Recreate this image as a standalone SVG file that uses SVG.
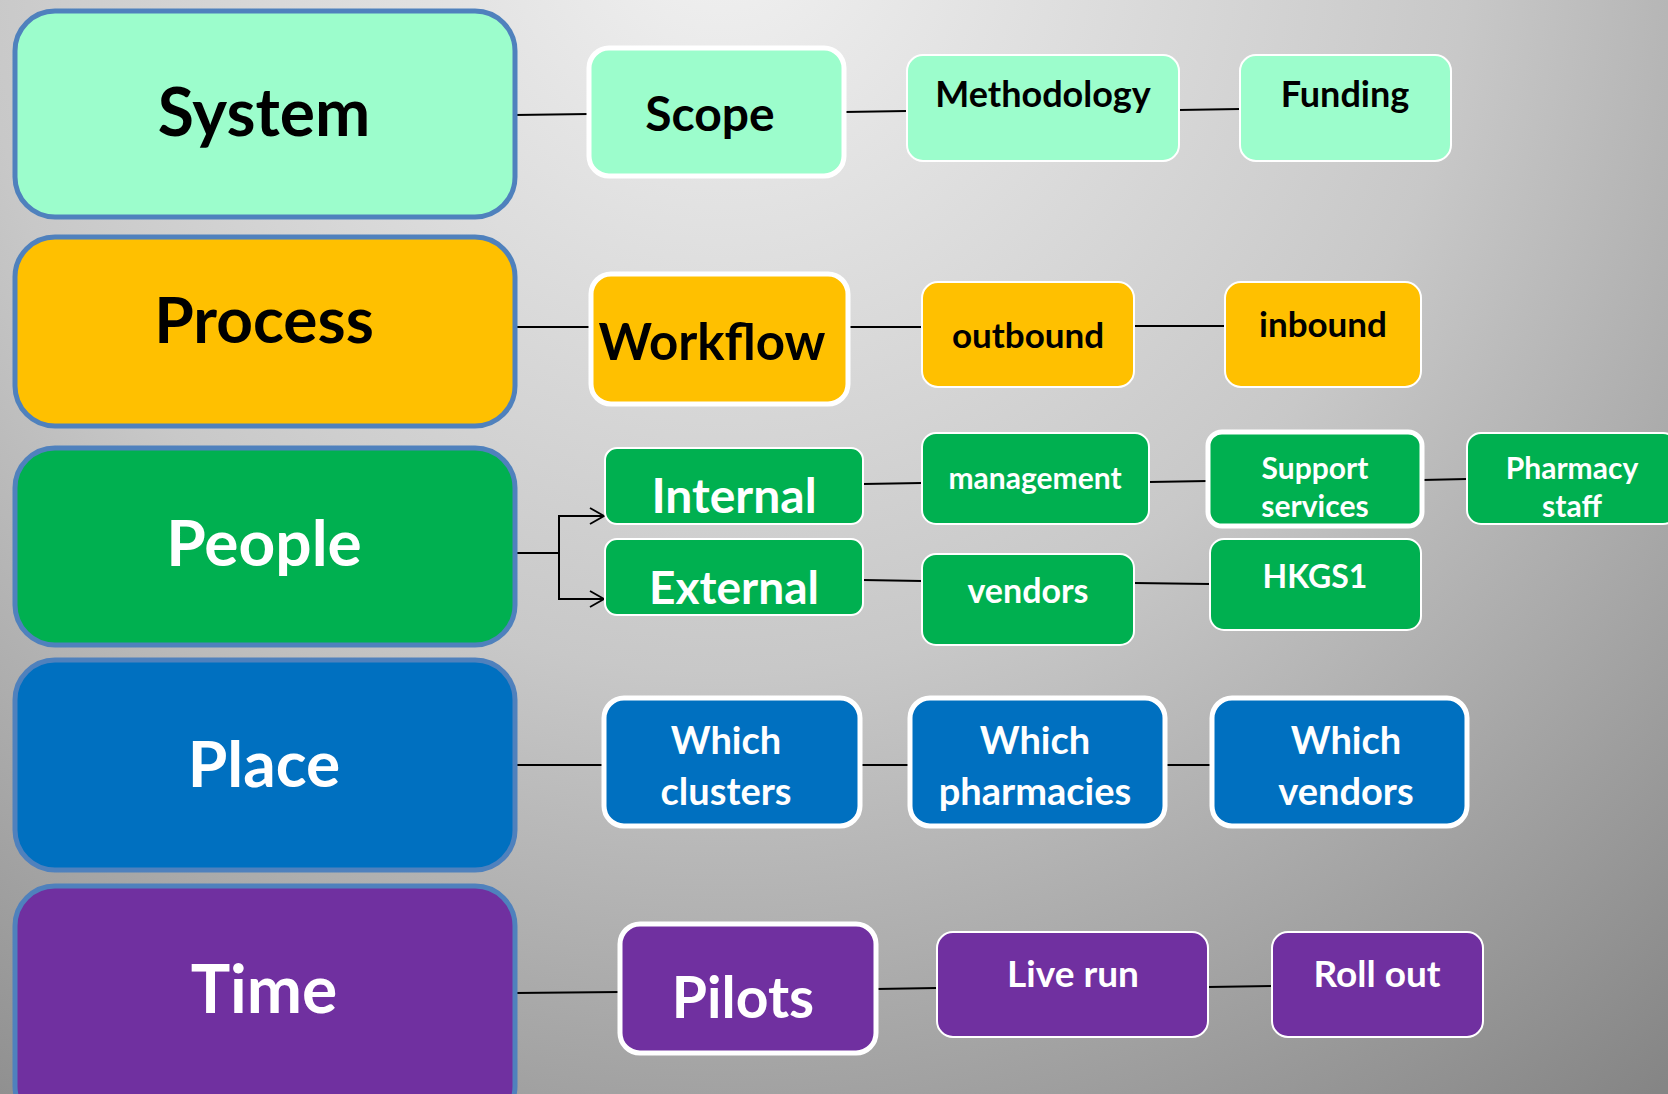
<svg xmlns="http://www.w3.org/2000/svg" width="1668" height="1094" viewBox="0 0 1668 1094">
<defs>
<radialGradient id="bg" gradientUnits="userSpaceOnUse" cx="720" cy="-80" r="1500">
<stop offset="0" stop-color="#F2F2F2"/>
<stop offset="0.5" stop-color="#C8C8C8"/>
<stop offset="1" stop-color="#858585"/>
</radialGradient>
<marker id="arr" viewBox="0 0 16 18" refX="15" refY="9" markerWidth="16" markerHeight="18" markerUnits="userSpaceOnUse" orient="auto">
<path d="M1,1 L15,9 L1,17" fill="none" stroke="#000" stroke-width="1.8"/>
</marker>
<style>
.main{stroke:#4F81BD;stroke-width:5}
.thick{stroke:#FFFFFF;stroke-width:5}
.thin{stroke:#FFFFFF;stroke-width:2}
.t{font-family:Lato,"Open Sans","Liberation Sans",sans-serif;font-weight:bold;text-anchor:middle}
.blk{fill:#000}
.wht{fill:#FFF}
.mint{fill:#9CFDCC}
.gold{fill:#FFC000}
.grn{fill:#00B050}
.blu{fill:#0070C0}
.pur{fill:#7030A0}
.conn line,.conn path{stroke:#000;stroke-width:2;fill:none}
</style>
</defs>
<rect width="1668" height="1094" fill="url(#bg)"/>

<g class="conn" id="connectors">
<line x1="515" y1="115" x2="589" y2="114"/>
<line x1="844" y1="112" x2="907" y2="111"/>
<line x1="1179" y1="110" x2="1240" y2="109"/>
<line x1="515" y1="327" x2="591" y2="327"/>
<line x1="848" y1="327" x2="922" y2="327"/>
<line x1="1134" y1="326" x2="1225" y2="326"/>
<path d="M515,553 H559 V516 H604" marker-end="url(#arr)"/>
<path d="M559,553 V599 H604" marker-end="url(#arr)"/>
<line x1="863" y1="484" x2="922" y2="483"/>
<line x1="1149" y1="482" x2="1208" y2="481"/>
<line x1="1422" y1="480" x2="1467" y2="479"/>
<line x1="863" y1="580" x2="922" y2="581"/>
<line x1="1134" y1="583" x2="1210" y2="584"/>
<line x1="515" y1="765" x2="604" y2="765"/>
<line x1="860" y1="765" x2="910" y2="765"/>
<line x1="1165" y1="765" x2="1212" y2="765"/>
<line x1="515" y1="993" x2="620" y2="992"/>
<line x1="876" y1="989" x2="937" y2="988"/>
<line x1="1208" y1="987" x2="1272" y2="986"/>
</g>

<g id="system"><rect x="15" y="11" width="500" height="206" rx="40" class="main mint"/><text x="264" y="136" class="t blk" font-size="66">System</text></g>
<g id="process"><rect x="15" y="237" width="500" height="189" rx="40" class="main gold"/><text x="264" y="343" class="t blk" font-size="64">Process</text></g>
<g id="people"><rect x="15" y="448" width="500" height="197" rx="40" class="main grn"/><text x="264" y="566" class="t wht" font-size="64">People</text></g>
<g id="place"><rect x="15" y="660" width="500" height="210" rx="40" class="main blu"/><text x="264" y="787" class="t wht" font-size="64">Place</text></g>
<g id="time"><rect x="15" y="886" width="500" height="240" rx="40" class="main pur"/><text x="264" y="1013" class="t wht" font-size="66">Time</text></g>

<g id="scope"><rect x="589" y="48" width="255" height="128" rx="20" class="thick mint"/><text x="710" y="131" class="t blk" font-size="48">Scope</text></g>
<g id="methodology"><rect x="907" y="55" width="272" height="106" rx="16" class="thin mint"/><text x="1043" y="107" class="t blk" font-size="36">Methodology</text></g>
<g id="funding"><rect x="1240" y="55" width="211" height="106" rx="16" class="thin mint"/><text x="1345" y="107" class="t blk" font-size="36">Funding</text></g>

<g id="workflow"><rect x="591" y="274" width="257" height="130" rx="20" class="thick gold"/><text x="712" y="360" class="t blk" font-size="51">Workflow</text></g>
<g id="outbound"><rect x="922" y="282" width="212" height="105" rx="16" class="thin gold"/><text x="1028" y="348" class="t blk" font-size="35">outbound</text></g>
<g id="inbound"><rect x="1225" y="282" width="196" height="105" rx="16" class="thin gold"/><text x="1323" y="337" class="t blk" font-size="35">inbound</text></g>

<g id="internal"><rect x="605" y="448" width="258" height="76" rx="12" class="thin grn"/><text x="734" y="513" class="t wht" font-size="48">Internal</text></g>
<g id="external"><rect x="605" y="539" width="258" height="76" rx="12" class="thin grn"/><text x="734" y="604" class="t wht" font-size="46">External</text></g>
<g id="management"><rect x="922" y="433" width="227" height="91" rx="14" class="thin grn"/><text x="1035" y="489" class="t wht" font-size="30">management</text></g>
<g id="support"><rect x="1208" y="432" width="214" height="94" rx="14" class="thick grn"/><text x="1315" y="479" class="t wht" font-size="30">Support</text><text x="1315" y="517" class="t wht" font-size="30">services</text></g>
<g id="pharmacy"><rect x="1467" y="433" width="210" height="91" rx="14" class="thin grn"/><text x="1572" y="479" class="t wht" font-size="30">Pharmacy</text><text x="1572" y="517" class="t wht" font-size="30">staff</text></g>
<g id="vendors"><rect x="922" y="554" width="212" height="91" rx="14" class="thin grn"/><text x="1028" y="603" class="t wht" font-size="34">vendors</text></g>
<g id="hkgs1"><rect x="1210" y="539" width="211" height="91" rx="14" class="thin grn"/><text x="1315" y="588" class="t wht" font-size="32">HKGS1</text></g>

<g id="clusters"><rect x="604" y="698" width="256" height="128" rx="20" class="thick blu"/><text x="726" y="754" class="t wht" font-size="38">Which</text><text x="726" y="805" class="t wht" font-size="38">clusters</text></g>
<g id="pharmacies"><rect x="910" y="698" width="255" height="128" rx="20" class="thick blu"/><text x="1035" y="754" class="t wht" font-size="38">Which</text><text x="1035" y="805" class="t wht" font-size="38">pharmacies</text></g>
<g id="whichvendors"><rect x="1212" y="698" width="255" height="128" rx="20" class="thick blu"/><text x="1346" y="754" class="t wht" font-size="38">Which</text><text x="1346" y="805" class="t wht" font-size="38">vendors</text></g>

<g id="pilots"><rect x="620" y="924" width="256" height="129" rx="20" class="thick pur"/><text x="743" y="1018" class="t wht" font-size="57">Pilots</text></g>
<g id="liverun"><rect x="937" y="932" width="271" height="105" rx="16" class="thin pur"/><text x="1073" y="987" class="t wht" font-size="37">Live run</text></g>
<g id="rollout"><rect x="1272" y="932" width="211" height="105" rx="16" class="thin pur"/><text x="1377" y="987" class="t wht" font-size="37">Roll out</text></g>
</svg>
